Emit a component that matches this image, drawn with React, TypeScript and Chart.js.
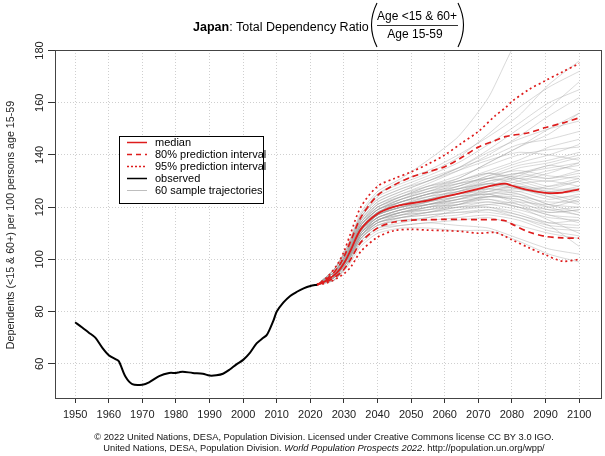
import React, { useEffect, useRef } from 'react';
import { Chart, registerables } from 'chart.js';
Chart.register(...registerables);

const FONT = '"Liberation Sans", Arial, Helvetica, sans-serif';

const X_TICKS = [1950, 1960, 1970, 1980, 1990, 2000, 2010, 2020, 2030, 2040, 2050, 2060, 2070, 2080, 2090, 2100];
const Y_TICKS = [60, 80, 100, 120, 140, 160, 180];

const OBS_YEARS = [1950, 1952, 1954, 1956, 1958, 1960, 1962, 1963, 1965, 1967, 1970, 1972, 1975, 1978, 1980, 1981, 1982, 1985, 1988, 1990, 1992, 1994, 1996, 1998, 2000, 2002, 2004, 2006, 2007, 2008, 2009, 2010, 2012, 2014, 2016, 2018, 2020, 2022];
const OBS_VALUES = [75.9, 74.0, 72.0, 70.0, 66.3, 63.3, 61.8, 61.0, 55.0, 52.2, 52.0, 52.9, 55.3, 56.5, 56.5, 56.8, 57.0, 56.5, 56.2, 55.5, 55.6, 56.2, 57.8, 59.8, 61.5, 64.2, 67.8, 70.0, 71.0, 73.5, 76.5, 80.0, 83.5, 86.0, 87.6, 88.9, 89.8, 90.3];

const PROJ_YEARS = [2022, 2025, 2028, 2030, 2032, 2035, 2040, 2045, 2050, 2055, 2060, 2065, 2070, 2075, 2078, 2080, 2085, 2090, 2095, 2100];
const MEDIAN = [90.3, 92.0, 95.0, 98.5, 103.5, 111.5, 117.5, 120.2, 121.5, 122.5, 124.0, 125.5, 127.0, 128.5, 129.0, 128.2, 126.5, 125.5, 125.6, 126.8];
const PI80_LOW = [90.3, 91.5, 93.8, 96.2, 100.0, 106.5, 112.0, 114.3, 115.0, 115.2, 115.3, 115.3, 115.2, 115.2, 114.8, 113.5, 110.5, 108.8, 108.2, 108.1];
const PI80_HIGH = [90.3, 92.6, 96.5, 101.0, 107.0, 116.0, 124.5, 128.5, 131.5, 133.5, 135.5, 139.0, 143.0, 145.5, 147.0, 147.5, 148.5, 150.5, 152.2, 154.2];
const PI95_LOW = [90.3, 91.0, 92.8, 94.5, 97.0, 103.0, 108.5, 111.0, 111.5, 111.2, 111.0, 110.7, 110.0, 110.3, 108.8, 107.5, 104.5, 101.7, 99.3, 100.0];
const PI95_HIGH = [90.3, 93.2, 98.0, 103.0, 110.0, 120.0, 128.0, 131.0, 133.5, 136.5, 140.0, 144.5, 149.0, 155.0, 158.0, 160.5, 165.0, 168.5, 171.8, 175.0];

const TRAJ_YEARS = [2022, 2027, 2031, 2035, 2040, 2047, 2055, 2064, 2073, 2082, 2091, 2100];
const TRAJ_START = 90.3;
const TRAJECTORIES = [
  [94, 101, 112, 118, 121, 123, 126, 129, 128, 126, 127],
  [95, 103, 115, 122, 126, 130, 135, 141, 146, 150, 153],
  [93, 99, 109, 114, 116, 117, 118, 119, 116, 113, 112],
  [94, 102, 113, 120, 124, 128, 131, 137, 143, 148, 156],
  [92, 98, 107, 112, 113, 114, 113, 112, 108, 104, 102],
  [96, 104, 117, 125, 129, 133, 139, 148, 158, 166, 172],
  [94, 100, 110, 116, 119, 121, 124, 125, 122, 118, 119],
  [95, 102, 113, 119, 123, 126, 128, 132, 136, 138, 141],
  [93, 100, 110, 115, 118, 120, 121, 124, 125, 121, 118],
  [94, 101, 111, 117, 120, 122, 126, 130, 132, 131, 134],
  [95, 103, 114, 121, 125, 128, 130, 133, 131, 128, 130],
  [93, 99, 108, 113, 115, 116, 119, 121, 119, 116, 115],
  [96, 105, 118, 126, 131, 138, 147, 162, 185, 195, 200],
  [94, 101, 111, 116, 119, 121, 123, 127, 130, 133, 137],
  [93, 100, 109, 115, 117, 118, 120, 122, 120, 115, 110],
  [95, 102, 112, 119, 122, 125, 127, 129, 127, 124, 124],
  [94, 102, 113, 119, 123, 126, 130, 134, 138, 143, 146],
  [92, 98, 106, 111, 113, 114, 115, 116, 113, 110, 108],
  [95, 103, 114, 121, 124, 127, 129, 131, 129, 126, 128],
  [94, 101, 111, 117, 120, 123, 125, 128, 131, 134, 136],
  [93, 100, 109, 114, 117, 119, 121, 125, 127, 124, 121],
  [96, 104, 116, 123, 127, 131, 135, 139, 144, 146, 149],
  [94, 100, 110, 116, 118, 120, 122, 124, 124, 122, 122],
  [95, 102, 112, 118, 121, 123, 125, 126, 124, 120, 117],
  [94, 101, 112, 118, 122, 125, 129, 133, 137, 140, 144],
  [93, 99, 108, 113, 115, 115, 116, 117, 115, 111, 109],
  [95, 103, 115, 121, 125, 129, 134, 140, 147, 155, 162],
  [94, 100, 110, 116, 119, 122, 124, 126, 128, 127, 130],
  [94, 101, 111, 117, 120, 121, 122, 123, 120, 117, 114],
  [95, 102, 113, 120, 123, 126, 129, 131, 133, 131, 133],
  [93, 99, 108, 114, 116, 118, 119, 120, 118, 114, 113],
  [96, 104, 116, 124, 128, 132, 137, 144, 152, 160, 165],
  [94, 101, 111, 117, 121, 124, 126, 128, 127, 125, 126],
  [93, 100, 110, 115, 118, 119, 122, 124, 123, 119, 120],
  [95, 102, 113, 119, 122, 124, 126, 129, 133, 136, 139],
  [92, 97, 105, 110, 112, 112, 111, 111, 107, 102, 99],
  [94, 101, 112, 118, 122, 125, 128, 132, 134, 132, 131],
  [95, 103, 114, 120, 124, 128, 132, 136, 140, 142, 143],
  [93, 100, 109, 115, 117, 118, 120, 121, 122, 121, 124],
  [94, 101, 111, 117, 120, 123, 125, 127, 126, 123, 125],
  [95, 102, 113, 119, 123, 127, 131, 137, 143, 150, 156],
  [94, 100, 110, 116, 119, 121, 123, 126, 129, 130, 128],
  [93, 99, 108, 114, 116, 117, 118, 118, 116, 112, 111],
  [96, 104, 116, 123, 127, 130, 134, 138, 141, 140, 138],
  [94, 101, 111, 117, 121, 123, 127, 131, 135, 137, 140],
  [93, 100, 110, 115, 118, 120, 123, 125, 121, 117, 116],
  [95, 102, 114, 120, 124, 127, 130, 133, 130, 127, 127],
  [94, 100, 109, 115, 118, 121, 124, 128, 132, 136, 134],
  [92, 98, 107, 112, 114, 116, 117, 119, 117, 113, 105],
  [95, 103, 115, 122, 126, 130, 135, 142, 150, 158, 168],
  [94, 101, 111, 117, 120, 122, 124, 125, 126, 128, 131],
  [93, 99, 109, 114, 117, 120, 121, 122, 120, 118, 119],
  [95, 102, 113, 119, 122, 125, 127, 129, 128, 125, 122],
  [94, 101, 112, 118, 121, 124, 128, 131, 133, 135, 137],
  [93, 100, 109, 115, 118, 119, 120, 120, 117, 114, 115],
  [96, 105, 117, 125, 130, 134, 140, 147, 155, 167, 176],
  [94, 101, 111, 117, 120, 122, 125, 127, 125, 121, 120],
  [95, 102, 112, 118, 122, 125, 127, 130, 131, 130, 132],
  [93, 99, 108, 113, 116, 118, 121, 123, 121, 119, 117],
  [94, 101, 111, 116, 119, 121, 123, 124, 123, 120, 123],
];

const LEGEND_LABELS = ['median', '80% prediction interval', '95% prediction interval', 'observed', '60 sample trajectories'];
const RED = 'rgb(222, 28, 28)';
const GREY = 'rgba(160, 160, 160, 0.4)';

const pts = (xs: number[], ys: number[]) => xs.map((x, i) => ({ x, y: ys[i] }));

const overlay = {
  id: 'overlay',
  afterDraw(chart: any) {
    const { ctx, chartArea: a, scales } = chart;
    const ys = scales.y;
    ctx.save();
    // plot box
    ctx.strokeStyle = '#444';
    ctx.lineWidth = 1;
    ctx.setLineDash([]);
    ctx.strokeRect(a.left + 0.5, a.top + 0.5, a.right - a.left - 1, a.bottom - a.top);

    // y tick labels (rotated)
    ctx.fillStyle = '#222';
    ctx.font = `11px ${FONT}`;
    ctx.textAlign = 'center';
    ctx.textBaseline = 'middle';
    Y_TICKS.forEach((v) => {
      const py = ys.getPixelForValue(v);
      ctx.save();
      ctx.translate(40, py);
      ctx.rotate(-Math.PI / 2);
      ctx.fillText(String(v), 0, 0);
      ctx.restore();
    });

    // y axis title
    ctx.save();
    ctx.translate(11, 225);
    ctx.rotate(-Math.PI / 2);
    ctx.font = `10.7px ${FONT}`;
    ctx.fillText('Dependents (<15 & 60+) per 100 persons age 15-59', 0, 0);
    ctx.restore();

    // title
    ctx.textAlign = 'left';
    ctx.textBaseline = 'alphabetic';
    ctx.fillStyle = '#000';
    ctx.font = `bold 12.5px ${FONT}`;
    const tx = 193;
    ctx.fillText('Japan', tx, 31);
    const w1 = ctx.measureText('Japan').width;
    ctx.font = `12.5px ${FONT}`;
    ctx.fillText(': Total Dependency Ratio', tx + w1, 31);
    // fraction
    ctx.textAlign = 'center';
    ctx.font = `12px ${FONT}`;
    ctx.fillText('Age <15 & 60+', 417, 20);
    ctx.fillText('Age 15-59', 415, 38);
    ctx.strokeStyle = '#000';
    ctx.lineWidth = 0.8;
    ctx.beginPath();
    ctx.moveTo(377, 25.5);
    ctx.lineTo(458, 25.5);
    ctx.stroke();
    // big parentheses
    ctx.lineWidth = 1.1;
    ctx.beginPath();
    ctx.moveTo(377, 3);
    ctx.quadraticCurveTo(366, 25, 377, 47);
    ctx.stroke();
    ctx.beginPath();
    ctx.moveTo(458, 3);
    ctx.quadraticCurveTo(469, 25, 458, 47);
    ctx.stroke();

    // legend
    const lx = 119, ly = 136, lw = 144, lh = 67;
    ctx.fillStyle = '#fff';
    ctx.fillRect(lx, ly, lw, lh);
    const rows = [142, 154, 166, 178, 190];
    const styles = [
      { c: RED, d: [] as number[], w: 1.5 },
      { c: RED, d: [5, 4], w: 1.5 },
      { c: RED, d: [2, 2], w: 1.5 },
      { c: '#000', d: [] as number[], w: 1.5 },
      { c: 'rgb(190,190,190)', d: [] as number[], w: 1 },
    ];
    ctx.font = `11px ${FONT}`;
    ctx.textAlign = 'left';
    ctx.textBaseline = 'middle';
    rows.forEach((ry, i) => {
      const s = styles[i];
      ctx.strokeStyle = s.c;
      ctx.lineWidth = s.w;
      ctx.setLineDash(s.d);
      ctx.beginPath();
      ctx.moveTo(127, ry + 0.5);
      ctx.lineTo(147, ry + 0.5);
      ctx.stroke();
      ctx.setLineDash([]);
      ctx.fillStyle = '#000';
      ctx.fillText(LEGEND_LABELS[i], 155, ry + 1);
    });
    ctx.strokeStyle = '#000';
    ctx.lineWidth = 1;
    ctx.strokeRect(lx + 0.5, ly + 0.5, lw, lh);

    // footer
    ctx.fillStyle = '#111';
    ctx.textBaseline = 'middle';
    ctx.textAlign = 'center';
    const fs = 9.3;
    ctx.font = `${fs}px ${FONT}`;
    ctx.fillText('\u00A9 2022 United Nations, DESA, Population Division. Licensed under Creative Commons license CC BY 3.0 IGO.', 324, 437);
    const p1 = 'United Nations, DESA, Population Division. ';
    const p2 = 'World Population Prospects 2022';
    const p3 = '. http://population.un.org/wpp/';
    ctx.font = `${fs}px ${FONT}`;
    const a1 = ctx.measureText(p1).width;
    const a3 = ctx.measureText(p3).width;
    ctx.font = `italic ${fs}px ${FONT}`;
    const a2 = ctx.measureText(p2).width;
    let fx = 324 - (a1 + a2 + a3) / 2;
    ctx.textAlign = 'left';
    ctx.font = `${fs}px ${FONT}`;
    ctx.fillText(p1, fx, 448);
    fx += a1;
    ctx.font = `italic ${fs}px ${FONT}`;
    ctx.fillText(p2, fx, 448);
    fx += a2;
    ctx.font = `${fs}px ${FONT}`;
    ctx.fillText(p3, fx, 448);
    ctx.restore();
  },
};

export default function App() {
  const ref = useRef<HTMLCanvasElement | null>(null);
  useEffect(() => {
    if (!ref.current) return;
    const lineDs = (label: string, data: any[], color: string, width: number, dash: number[], order: number, tension = 0.3) => ({
      label,
      data,
      borderColor: color,
      borderWidth: width,
      borderDash: dash,
      pointRadius: 0,
      fill: false,
      tension,
      order,
    });
    const datasets: any[] = [
      lineDs('observed', pts(OBS_YEARS, OBS_VALUES), '#000', 2, [], 0),
      lineDs('median', pts(PROJ_YEARS, MEDIAN), RED, 1.8, [], 1),
      lineDs('80% low', pts(PROJ_YEARS, PI80_LOW), RED, 1.7, [6, 4], 2),
      lineDs('80% high', pts(PROJ_YEARS, PI80_HIGH), RED, 1.7, [6, 4], 2),
      lineDs('95% low', pts(PROJ_YEARS, PI95_LOW), RED, 1.7, [2, 3], 3),
      lineDs('95% high', pts(PROJ_YEARS, PI95_HIGH), RED, 1.7, [2, 3], 3),
      ...TRAJECTORIES.map((row, i) =>
        lineDs('traj ' + (i + 1), pts(TRAJ_YEARS, [TRAJ_START, ...row]), GREY, 1, [], 10, 0.2)
      ),
    ];
    const chart = new Chart(ref.current, {
      type: 'line',
      data: { datasets },
      options: {
        animation: false,
        responsive: false,
        layout: { padding: { top: 50, right: 3, left: 0, bottom: 0 } },
        plugins: { legend: { display: false }, tooltip: { enabled: false }, title: { display: false } },
        scales: {
          x: {
            type: 'linear',
            min: 1944,
            max: 2106.8,
            afterBuildTicks: (s: any) => { s.ticks = X_TICKS.map((v) => ({ value: v })); },
            afterFit: (s: any) => { s.height = 58; },
            grid: { color: '#cfcfcf', lineWidth: 1, drawTicks: true, tickLength: 5, tickColor: '#333', tickWidth: 1, tickBorderDash: [] },
            border: { display: false, dash: [1, 2] },
            ticks: { color: '#222', font: { size: 11, family: FONT }, padding: 5, maxRotation: 0, minRotation: 0, autoSkip: false, callback: (v: any) => String(v) },
          },
          y: {
            type: 'linear',
            min: 46.9,
            max: 180.2,
            afterBuildTicks: (s: any) => { s.ticks = Y_TICKS.map((v) => ({ value: v })); },
            afterFit: (s: any) => { s.width = 55; },
            grid: { color: '#cfcfcf', lineWidth: 1, drawTicks: true, tickLength: 7, tickColor: '#333', tickWidth: 1, tickBorderDash: [] },
            border: { display: false, dash: [1, 2] },
            ticks: { display: false },
          },
        },
      },
      plugins: [overlay],
    } as any);
    return () => chart.destroy();
  }, []);
  return (
    <div style={{ position: 'fixed', left: 0, top: 0, width: 605, height: 456, background: '#fff' }}>
      <canvas ref={ref} width={605} height={456} style={{ display: 'block' }} />
    </div>
  );
}
